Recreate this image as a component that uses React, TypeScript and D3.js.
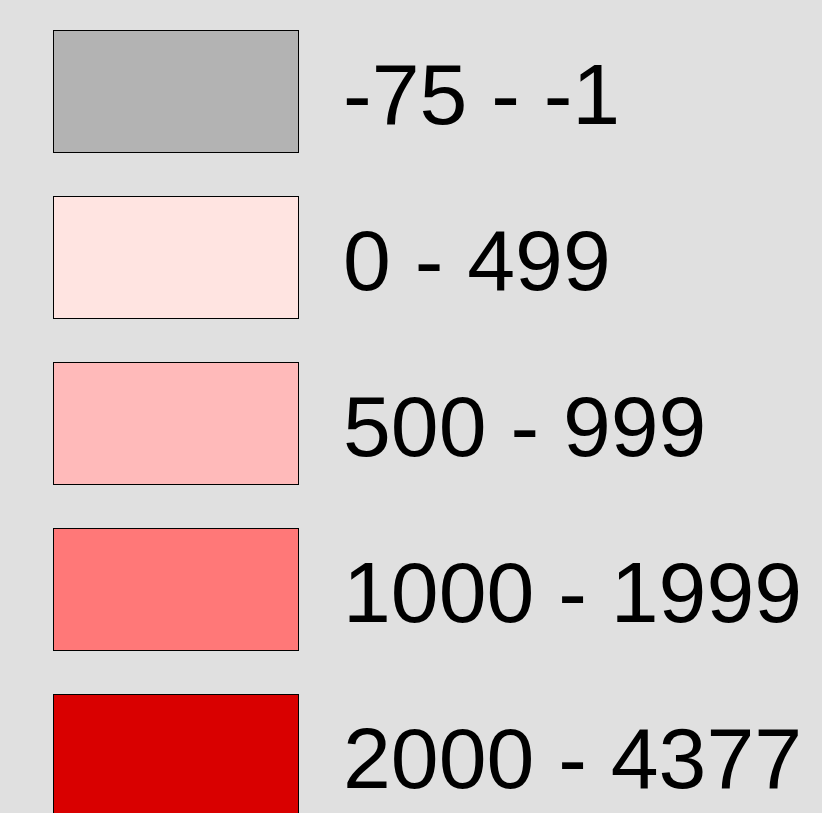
import React from "react";
import { scaleBand, scaleOrdinal } from "d3";

const labels: string[] = ["-75 - -1", "0 - 499", "500 - 999", "1000 - 1999", "2000 - 4377"];
const colors: string[] = ["#b3b3b3", "#ffe4e1", "#ffbaba", "#ff7878", "#d90000"];

const W = 822;
const H = 813;

export default function App(): JSX.Element {
  const yScale = scaleBand<string>()
    .domain(labels)
    .range([30.5, 816.5])
    .paddingInner(44 / 166)
    .paddingOuter(0);

  const color = scaleOrdinal<string, string>().domain(labels).range(colors);

  return (
    <svg
      width={W}
      height={H}
      style={{ position: "absolute", left: 0, top: 0, display: "block" }}
      fontFamily="'Liberation Sans', Arial, sans-serif"
    >
      <rect x={0} y={0} width={W} height={H} fill="#e0e0e0" />
      {labels.map((d) => {
        const y = yScale(d) ?? 0;
        return (
          <g key={d}>
            <rect
              x={53.5}
              y={y}
              width={245}
              height={yScale.bandwidth()}
              fill={color(d)}
              stroke="#000"
              strokeWidth={1}
            />
            <text x={343} y={y + 93} fontSize={86} fill="#000">
              {d}
            </text>
          </g>
        );
      })}
    </svg>
  );
}
